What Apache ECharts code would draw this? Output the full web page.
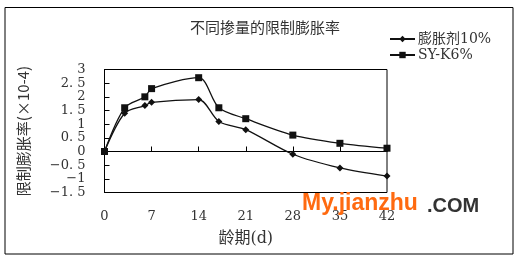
<!DOCTYPE html>
<html><head><meta charset="utf-8">
<script src="https://cdn.jsdelivr.net/npm/echarts@6/dist/echarts.min.js"></script>
<style>html,body{margin:0;padding:0;background:#fff}#c{width:528px;height:265px}</style>
</head><body><div id="c"></div>
<script>
const days = [0, 3, 6, 7, 14, 17, 21, 28, 35, 42];
const seriesNames = ['膨胀剂10%', 'SY-K6%'];
const expansion10 = [0, 1.4, 1.68, 1.8, 1.9, 1.1, 0.8, -0.1, -0.6, -0.9];
const syk6 = [0, 1.6, 2.0, 2.3, 2.7, 1.6, 1.2, 0.6, 0.3, 0.12];
const xTicks = [0, 7, 14, 21, 28, 35, 42];
const yTicks = [-1.5, -1, -0.5, 0, 0.5, 1, 1.5, 2, 2.5, 3];

const serif = '"DejaVu Serif","Liberation Serif","Noto Sans CJK SC",serif';
const cjk = '"DejaVu Serif","Noto Sans CJK SC",sans-serif';
const chart = echarts.init(document.getElementById('c'));
function fmt(v){ return String(v).replace('-', '−').replace('.', '. '); }
function isInt(v){ return Math.abs(v - Math.round(v)) < 1e-9; }
const yLabelBase = { margin: 19, fontSize: 13, color: '#333', fontFamily: serif, showMinLabel: true, showMaxLabel: true };
chart.setOption({
  animation: false,
  backgroundColor: '#fff',
  title: {
    text: '不同掺量的限制膨胀率', left: 260, top: 15, textAlign: 'center',
    textStyle: { fontSize: 15, fontWeight: 'normal', color: '#333', fontFamily: '"Noto Sans CJK SC",sans-serif' }
  },
  legend: {
    orient: 'vertical', left: 384, top: 27, itemGap: 2, itemWidth: 25, itemHeight: 8,
    data: seriesNames,
    textStyle: { fontSize: 14, color: '#333', fontFamily: cjk, padding: [0,0,0,-2] }
  },
  grid: { left: 104.5, right: 141, top: 69.5, bottom: 72.5, show: true, borderColor: '#000', borderWidth: 1 },
  xAxis: {
    type: 'value', min: 0, max: 42, interval: 7,
    name: '龄期(d)', nameLocation: 'middle', nameGap: 38,
    nameTextStyle: { fontSize: 16, color: '#333', fontFamily: cjk },
    axisLine: { lineStyle: { color: '#000' } },
    axisTick: { inside: true, length: 5, lineStyle: { color: '#000' } },
    axisLabel: { margin: 18, fontSize: 13, color: '#333', fontFamily: serif, showMinLabel: true, showMaxLabel: true },
    splitLine: { show: false }
  },
  yAxis: [{
    type: 'value', min: -1.5, max: 3, interval: 0.5, position: 'left',
    name: '限制膨胀率(×10-4)', nameLocation: 'middle', nameGap: 74, nameRotate: 90,
    nameTextStyle: { fontSize: 15, color: '#333', fontFamily: '"Noto Sans CJK SC",sans-serif' },
    axisLabel: Object.assign({}, yLabelBase, { formatter: v => isInt(v) ? fmt(v) : '' }),
    axisLine: { lineStyle: { color: '#000' } },
    axisTick: { inside: true, length: 5, lineStyle: { color: '#000' } },
    splitLine: { show: false }
  }, {
    type: 'value', min: -1.5, max: 3, interval: 0.5, position: 'left', offset: 0,
    axisLabel: Object.assign({}, yLabelBase, { formatter: v => isInt(v) ? '' : fmt(v) }),
    axisLine: { show: false }, axisTick: { show: false }, splitLine: { show: false }
  }],
  series: [
    { name: seriesNames[0], type: 'line', smooth: 0.3, symbol: 'diamond', symbolSize: 7,
      data: days.map((d,i)=>[d, expansion10[i]]),
      lineStyle: { color: '#111', width: 1.3 }, itemStyle: { color: '#111' } },
    { name: seriesNames[1], type: 'line', smooth: 0.3, symbol: 'rect', symbolSize: 7,
      data: days.map((d,i)=>[d, syk6[i]]),
      lineStyle: { color: '#111', width: 1.3 }, itemStyle: { color: '#111' } }
  ],
  graphic: [
    { type: 'rect', shape: { x: 5, y: 7.5, width: 508, height: 246.5 }, style: { fill: 'none', stroke: '#000', lineWidth: 1 }, silent: true },
    { type: 'text', left: 302, top: 192, style: { text: 'My.jianzhu', fill: '#ff6a10', font: 'bold 23px "Liberation Sans",Arial,sans-serif' }, z: 100 },
    { type: 'text', left: 427, top: 196, style: { text: '.COM', fill: '#333', font: 'bold 20px "Liberation Sans",Arial,sans-serif' }, z: 100 }
  ]
});
</script></body></html>
